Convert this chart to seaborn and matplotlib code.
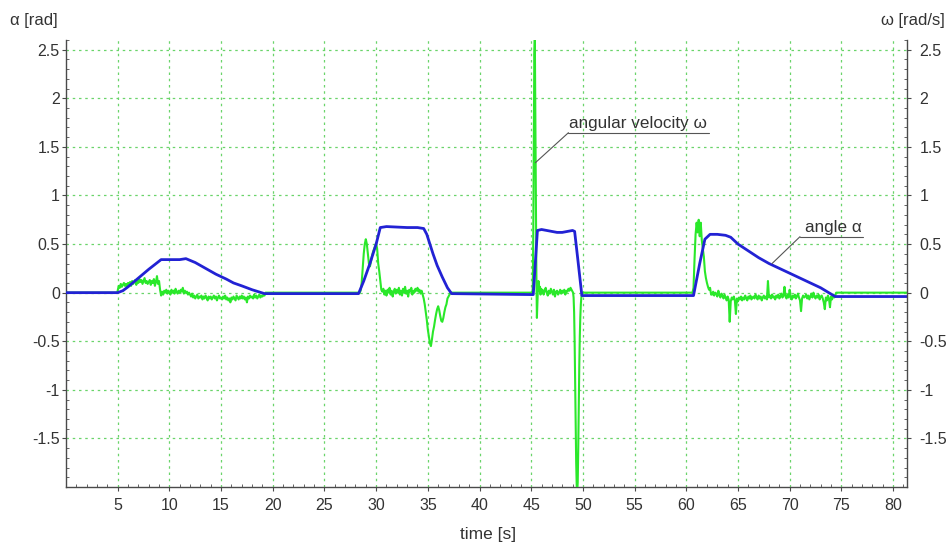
import numpy as np
import pandas as pd
import matplotlib
matplotlib.use("Agg")
import matplotlib.pyplot as plt
from matplotlib.ticker import MultipleLocator
import seaborn as sns

# ---------------- data ----------------
# angle alpha [rad] : breakpoints
alpha_t = [0, 5.0, 5.5, 6.0, 7.0, 8.0, 9.2, 10.0, 11.0, 11.6, 12.5, 13.5, 14.5, 15.5, 16.2,
           17.0, 18.0, 19.2, 28.3, 28.8, 29.4, 30.0, 30.4, 31.0, 32.0, 33.0, 34.0, 34.6,
           34.9, 35.2, 35.5, 35.9, 36.4, 36.9, 37.3, 45.2, 45.6, 46.0, 46.5, 47.0, 47.5,
           48.0, 48.5, 49.0, 49.2, 49.5, 49.9, 60.7, 61.3, 61.8, 62.3, 63.0, 63.8, 64.3,
           65.0, 66.0, 67.0, 68.0, 69.0, 70.0, 71.0, 72.0, 73.0, 74.4, 81.35]
alpha_v = [0, 0, 0.02, 0.06, 0.15, 0.24, 0.34, 0.34, 0.34, 0.35, 0.31, 0.25, 0.19, 0.14, 0.10,
           0.07, 0.03, -0.01, -0.01, 0.12, 0.30, 0.50, 0.67, 0.68, 0.675, 0.67, 0.67, 0.66,
           0.60, 0.50, 0.40, 0.28, 0.16, 0.05, -0.01, -0.02, 0.64, 0.65, 0.64, 0.63, 0.62,
           0.62, 0.63, 0.64, 0.63, 0.35, -0.03, -0.03, 0.30, 0.55, 0.60, 0.60, 0.59, 0.57,
           0.50, 0.43, 0.36, 0.30, 0.25, 0.20, 0.15, 0.10, 0.05, -0.04, -0.04]

# angular velocity omega [rad/s] : sampled segments (start time, sample step, values)
omega_seg1_start, omega_seg1_step = 5.0, 0.1
omega_seg1 = [0.02, 0.07, 0.05, 0.09, 0.06, 0.08, 0.10, 0.07, 0.09, 0.06,
              0.10, 0.08, 0.11, 0.07, 0.12, 0.09, 0.11, 0.13, 0.08, 0.12,
              0.10, 0.14, 0.11, 0.13, 0.09, 0.12, 0.15, 0.10, 0.12, 0.09,
              0.11, 0.13, 0.08, 0.12, 0.10, 0.14, 0.07, 0.11, 0.17, 0.09,
              0.12, 0.03, -0.03, 0.01, -0.02, 0.02, 0.00, 0.03, -0.01, 0.02,
              0.01, -0.02, 0.03, 0.00, 0.02, -0.01, 0.04, 0.01, -0.01, 0.02,
              0.00, 0.03, 0.01, 0.05, -0.01, 0.02, 0.00, 0.01, -0.02, 0.00,
              -0.02, -0.04, -0.01, -0.05, -0.03, -0.06, -0.04, -0.02, -0.06, -0.04,
              -0.05, -0.03, -0.07, -0.04, -0.06, -0.03, -0.05, -0.08, -0.04, -0.06,
              -0.04, -0.07, -0.05, -0.03, -0.06, -0.04, -0.08, -0.05, -0.03, -0.06,
              -0.05, -0.07, -0.04, -0.06, -0.03, -0.07, -0.05, -0.08, -0.06, -0.10,
              -0.05, -0.07, -0.04, -0.06, -0.08, -0.03, -0.05, -0.07, -0.04, -0.06,
              -0.03, -0.06, -0.04, -0.07, -0.05, -0.10, -0.04, -0.06, -0.03, -0.05,
              -0.04, -0.06, -0.02, -0.05, -0.03, -0.06, -0.04, -0.02, -0.05, -0.03,
              -0.04, -0.02, -0.03, 0.00]

omega_seg2_start, omega_seg2_step = 28.4, 0.1
omega_seg2 = [0.00, 0.02, 0.10, 0.25, 0.40, 0.50, 0.55, 0.50, 0.40, 0.30,
              0.27, 0.32, 0.38, 0.42, 0.45, 0.48, 0.51, 0.45, 0.30, 0.22,
              0.12, 0.03, 0.01, 0.04, -0.02, 0.02, -0.03, 0.03, 0.00, 0.05,
              -0.02, 0.02, -0.04, 0.01, 0.04, -0.01, 0.03, 0.00, 0.05, -0.02,
              0.02, -0.03, 0.04, 0.00, 0.06, -0.01, 0.02, -0.04, 0.03, 0.01,
              0.05, -0.02, 0.02, 0.00, 0.04, 0.02, 0.05, 0.01, 0.03, -0.01,
              0.02, -0.02, -0.06, -0.12, -0.20, -0.28, -0.38, -0.45, -0.52, -0.55,
              -0.48, -0.40, -0.35, -0.28, -0.22, -0.17, -0.14, -0.18, -0.24, -0.29,
              -0.30, -0.26, -0.20, -0.15, -0.12, -0.06, -0.04, -0.02, 0.00]

omega_seg3a_start, omega_seg3a_step = 45.10, 0.05
omega_seg3a = [0.00, 0.05, 0.60, 1.60, 2.45, 2.62, 1.80, 0.90, 0.20, -0.26,
               -0.10, 0.05, 0.12, 0.08, 0.02, 0.06, -0.02, 0.04, 0.01]

omega_seg3b_start, omega_seg3b_step = 46.1, 0.1
omega_seg3b = [0.03, -0.02, 0.02, 0.05, 0.00, -0.03, 0.02, -0.01, 0.04, 0.01,
               -0.02, 0.03, -0.04, 0.01, 0.02, -0.02, 0.00, 0.03, -0.01, 0.02,
               0.00, 0.03, -0.02, 0.02, 0.01, 0.04, 0.02, 0.05, 0.03, 0.01]

omega_seg3c_start, omega_seg3c_step = 49.05, 0.05
omega_seg3c = [0.00, -0.05, -0.20, -0.50, -0.90, -1.35, -1.75, -1.98, -2.05, -1.95,
               -1.60, -1.15, -0.75, -0.45, -0.25, -0.12, -0.05, -0.02, 0.00, 0.00]

omega_seg4_start, omega_seg4_step = 60.6, 0.1
omega_seg4 = [0.00, 0.05, 0.35, 0.60, 0.72, 0.62, 0.75, 0.58, 0.72, 0.54,
              0.45, 0.37, 0.22, 0.15, 0.10, 0.06, 0.03, 0.05, -0.02,
              -0.02, 0.01, -0.03, 0.00, -0.01, -0.04, 0.02, -0.02, -0.05, -0.01,
              -0.03, -0.06, -0.02, -0.05, -0.08, -0.04, -0.07, -0.30, -0.09, -0.05,
              -0.07, -0.04, -0.08, -0.22, -0.06, -0.09, -0.05, -0.07, -0.04, -0.08,
              -0.05, -0.07, -0.03, -0.06, -0.08, -0.04, -0.06, -0.03, -0.07, -0.05,
              -0.04, -0.06, -0.02, -0.05, -0.07, -0.03, -0.06, -0.04, -0.08, -0.05,
              -0.03, -0.06, -0.04, -0.07, 0.12, -0.05, -0.03, -0.06, -0.02, -0.05,
              -0.04, -0.07, -0.03, -0.05, -0.02, -0.06, -0.04, -0.01, -0.05, -0.03,
              0.06, -0.04, -0.06, -0.02, -0.05, 0.03, -0.04, -0.07, -0.03, -0.05,
              -0.02, -0.06, -0.04, -0.01, -0.05, -0.08, -0.19, -0.06, -0.03, -0.05,
              -0.04, -0.02, -0.06, -0.03, -0.07, -0.04, -0.01, -0.05, 0.00, -0.04,
              -0.06, -0.03, -0.05, -0.02, -0.07, -0.04, -0.03, -0.06, -0.10, -0.17,
              -0.05, -0.08, -0.03, -0.06, -0.15, -0.04, -0.07, -0.02, -0.05, -0.03,
              0.00]

# rest periods where omega is zero
omega_rest_t = [0.0, 4.95, 19.35, 28.35, 37.25, 45.05, 50.05, 60.55, 74.55, 81.35]
omega_rest_v = [0, 0, 0, 0, 0, 0, 0, 0, 0, 0]

x_ticks = [5, 10, 15, 20, 25, 30, 35, 40, 45, 50, 55, 60, 65, 70, 75, 80]
y_ticks = [-1.5, -1, -0.5, 0, 0.5, 1, 1.5, 2, 2.5]
y_tick_labels = ["-1.5", "-1", "-0.5", "0", "0.5", "1", "1.5", "2", "2.5"]

# ---------------- build tables ----------------
parts_t, parts_v = [np.array(omega_rest_t, float)], [np.array(omega_rest_v, float)]
for start, step, vals in [(omega_seg1_start, omega_seg1_step, omega_seg1),
                          (omega_seg2_start, omega_seg2_step, omega_seg2),
                          (omega_seg3a_start, omega_seg3a_step, omega_seg3a),
                          (omega_seg3b_start, omega_seg3b_step, omega_seg3b),
                          (omega_seg3c_start, omega_seg3c_step, omega_seg3c),
                          (omega_seg4_start, omega_seg4_step, omega_seg4)]:
    parts_t.append(start + step * np.arange(len(vals)))
    parts_v.append(np.array(vals, float))
omega_df = pd.DataFrame({"t": np.concatenate(parts_t), "w": np.concatenate(parts_v)})
omega_df = omega_df.sort_values("t").reset_index(drop=True)
alpha_df = pd.DataFrame({"t": alpha_t, "a": alpha_v})

# ---------------- style ----------------
sns.set_theme(style="white")
plt.rcParams["font.family"] = ["Liberation Sans", "DejaVu Sans"]
txt_col = "#333333"
spine_col = "#4a4a4a"
green = "#2ae82a"
blue = "#2222d4"
grid_col = "#6ad46a"

fig = plt.figure(figsize=(9.49, 5.48), dpi=100)
ax = fig.add_axes([66 / 949, 1 - 487 / 548, (907 - 66) / 949, (487 - 40) / 548])

sns.lineplot(data=omega_df, x="t", y="w", ax=ax, color=green, lw=1.5,
             estimator=None, sort=False, zorder=3)
sns.lineplot(data=alpha_df, x="t", y="a", ax=ax, color=blue, lw=2.0,
             estimator=None, sort=False, zorder=4)

xlim = (0, 81.35)
ylim = (-2.0, 2.6)
ax.set_xlim(*xlim)
ax.set_ylim(*ylim)
ax.set_xlabel("")
ax.set_ylabel("")

ax.set_xticks(x_ticks)
ax.set_xticklabels([str(v) for v in x_ticks])
ax.set_yticks(y_ticks)
ax.set_yticklabels(y_tick_labels)
ax.xaxis.set_minor_locator(MultipleLocator(1))
ax.yaxis.set_minor_locator(MultipleLocator(0.1))

ax.grid(True, which="major", color=grid_col, lw=0.9, ls=(0, (2, 3)))
ax.tick_params(axis="x", which="major", direction="out", length=3, width=0.8,
               color=spine_col, pad=5, labelsize=11.5, labelcolor=txt_col, bottom=True)
ax.tick_params(axis="y", which="major", direction="out", length=3, width=0.8,
               color=spine_col, pad=1.5, labelsize=11.5, labelcolor=txt_col, left=True)
ax.tick_params(which="minor", direction="in", length=2.5, width=0.6, color=spine_col,
               bottom=True, left=True)

for s in ["top", "right"]:
    ax.spines[s].set_visible(False)
for s in ["left", "bottom"]:
    ax.spines[s].set_color(spine_col)
    ax.spines[s].set_linewidth(1.0)

# right-hand omega axis (same scale)
ax2 = ax.twinx()
ax2.set_ylim(*ylim)
ax2.set_yticks(y_ticks)
ax2.set_yticklabels(y_tick_labels)
ax2.yaxis.set_minor_locator(MultipleLocator(0.1))
ax2.tick_params(axis="y", which="major", direction="out", length=3, width=0.8,
                color=spine_col, pad=6, labelsize=11.5, labelcolor=txt_col, right=True)
ax2.tick_params(axis="y", which="minor", direction="in", length=2.5, width=0.6,
                color=spine_col, right=True)
ax2.grid(False)
for s in ["top", "left", "bottom"]:
    ax2.spines[s].set_visible(False)
ax2.spines["right"].set_color(spine_col)
ax2.spines["right"].set_linewidth(1.0)

# axis titles
fig.text(10 / 949, 1 - 20 / 548, "α [rad]", ha="left", va="center", fontsize=12, color=txt_col)
fig.text(945 / 949, 1 - 20 / 548, "ω [rad/s]", ha="right", va="center", fontsize=12, color=txt_col)
fig.text(488 / 949, 1 - 535 / 548, "time [s]", ha="center", va="center", fontsize=12.5, color=txt_col)

# callouts
lead_col = "#555555"
ax.plot([48.6, 62.2], [1.646, 1.646], color=lead_col, lw=0.8, zorder=5)
ax.plot([48.6, 45.4], [1.646, 1.337], color=lead_col, lw=0.8, zorder=5)
ax.text(55.3, 1.665, "angular velocity ω", ha="center", va="bottom", fontsize=12.3, color=txt_col, zorder=6)

ax.plot([71.0, 77.1], [0.576, 0.576], color=lead_col, lw=0.8, zorder=5)
ax.plot([71.0, 68.3], [0.576, 0.30], color=lead_col, lw=0.8, zorder=5)
ax.text(74.2, 0.595, "angle α", ha="center", va="bottom", fontsize=12.3, color=txt_col, zorder=6)

fig.savefig("out.png", dpi=100)
